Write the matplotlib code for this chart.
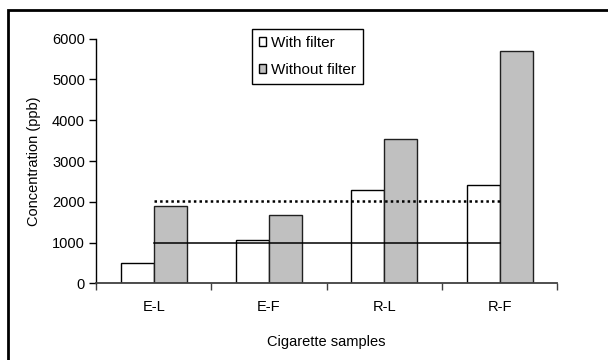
import matplotlib
matplotlib.use('Agg')
import numpy as np
import matplotlib.pyplot as plt
from matplotlib.patches import Patch, Rectangle

# Values
samples = ['E-L', 'E-F', 'R-L', 'R-F']
with_filter = [500, 1065, 2280, 2410]
without_filter = [1890, 1685, 3540, 5700]
limit_solid = 1000
limit_dotted = 2030
y_ticks = [0, 1000, 2000, 3000, 4000, 5000, 6000]

plt.rcParams['font.family'] = ['Liberation Sans', 'DejaVu Sans']
fs = 10.5

fig = plt.figure(figsize=(6.08, 3.6), dpi=100)
ax = fig.add_axes([0.158, 0.213, 0.7586, 0.6795])

x = np.arange(len(samples))
w = 0.286
ax.bar(x - w / 2, with_filter, w, color='white', edgecolor='black', linewidth=1.0, zorder=2)
ax.bar(x + w / 2, without_filter, w, color='#c0c0c0', edgecolor='#202020', linewidth=1.0, zorder=2)

# reference levels drawn across the groups
ax.plot([x[0], x[-1]], [limit_solid, limit_solid], color='black', linewidth=1.1, zorder=3)
ax.plot([x[0], x[-1]], [limit_dotted, limit_dotted], color='black', linewidth=1.8,
        linestyle=(0, (1.0, 1.25)), zorder=3)

ax.set_xlim(-0.5, len(samples) - 0.5)
ax.set_ylim(0, 6000)
ax.set_yticks(y_ticks)
ax.set_xticks(np.arange(len(samples) + 1) - 0.5)
ax.set_xticklabels([])
ax.set_xticks(x, minor=True)
ax.set_xticklabels(samples, minor=True)
ax.tick_params(axis='x', which='major', direction='out', length=5, width=1, color='#404040')
ax.tick_params(axis='x', which='minor', length=0, pad=12, labelsize=fs)
ax.tick_params(axis='y', direction='out', length=5, width=1, labelsize=fs, pad=3)

for s in ['top', 'right']:
    ax.spines[s].set_visible(False)
ax.spines['left'].set_linewidth(1)
ax.spines['bottom'].set_linewidth(1.3)
ax.spines['bottom'].set_color('#404040')

ax.set_xlabel('Cigarette samples', fontsize=fs, labelpad=15)
ax.set_ylabel('Concentration (ppb)', fontsize=fs, labelpad=8)

handles = [Patch(facecolor='white', edgecolor='black', linewidth=1.0, label='With filter'),
           Patch(facecolor='#c0c0c0', edgecolor='black', linewidth=1.0, label='Without filter')]
leg = ax.legend(handles=handles, loc='upper left', bbox_to_anchor=(0.3375, 1.04),
                borderaxespad=0, fancybox=False, edgecolor='black', fontsize=11,
                handlelength=0.5, handleheight=0.5, handletextpad=0.3,
                borderpad=0.45, labelspacing=0.85, framealpha=1)
leg.get_frame().set_linewidth(1.0)

# outer frame of the figure, clipped at the right and bottom edges
fig.patches.append(Rectangle((8 / 608, -0.05), 1.1, 1 - 10 / 360 + 0.05,
                             transform=fig.transFigure, fill=False,
                             edgecolor='black', linewidth=2, clip_on=False))

fig.savefig('out.png', dpi=100)
